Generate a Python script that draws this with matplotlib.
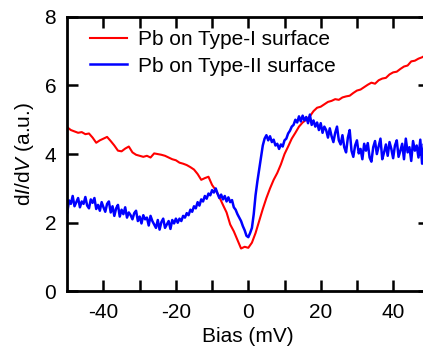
import numpy as np
import matplotlib
matplotlib.use('Agg')
import matplotlib.pyplot as plt

plt.rcParams['font.family'] = ['Liberation Sans', 'DejaVu Sans']
plt.rcParams['mathtext.fontset'] = 'custom'
plt.rcParams['mathtext.rm'] = 'Liberation Sans'
plt.rcParams['mathtext.it'] = 'Liberation Sans:italic'
plt.rcParams['axes.unicode_minus'] = False

# Pb on Type-I surface, every 1 mV from -50 to 50
red_vals = [4.78, 4.70, 4.66, 4.62, 4.64, 4.58, 4.60, 4.48, 4.33, 4.40,
            4.45, 4.50, 4.38, 4.25, 4.10, 4.08, 4.16, 4.22, 4.05, 3.98,
            3.95, 3.92, 3.95, 3.90, 4.02, 4.00, 3.98, 3.95, 3.90, 3.85,
            3.82, 3.75, 3.72, 3.68, 3.62, 3.55, 3.42, 3.25, 3.30, 3.34,
            3.10, 2.95, 2.75, 2.52, 2.30, 1.95, 1.75, 1.50, 1.25, 1.30,
            1.27, 1.42, 1.70, 2.05, 2.40, 2.72, 3.00, 3.25, 3.45, 3.70,
            4.00, 4.22, 4.45, 4.62, 4.80, 4.92, 5.00, 5.10, 5.25, 5.35,
            5.38, 5.45, 5.52, 5.55, 5.60, 5.58, 5.65, 5.68, 5.70, 5.78,
            5.85, 5.88, 5.95, 6.02, 6.08, 6.05, 6.15, 6.20, 6.22, 6.32,
            6.38, 6.40, 6.48, 6.55, 6.58, 6.70, 6.72, 6.78, 6.82, 6.88,
            6.92]

# Pb on Type-II surface, every 0.5 mV from -50 to 50
blue_vals = [2.30, 2.65, 2.55, 2.78, 2.48, 2.60, 2.72, 2.45, 2.62, 2.55,
             2.75, 2.50, 2.42, 2.68, 2.58, 2.72, 2.40, 2.52, 2.35, 2.60,
             2.45, 2.32, 2.55, 2.62, 2.30, 2.48, 2.20, 2.42, 2.52, 2.18,
             2.38, 2.25, 2.45, 2.15, 2.30, 2.22, 2.10, 2.28, 2.35, 2.05,
             2.18, 1.98, 2.22, 2.10, 2.15, 1.92, 2.20, 2.05, 1.95, 1.85,
             2.08, 1.80, 2.02, 2.12, 1.85, 1.95, 2.05, 1.82, 2.08, 1.98,
             2.12, 2.00, 2.12, 2.05, 2.20, 2.15, 2.28, 2.22, 2.38, 2.32,
             2.48, 2.42, 2.60, 2.50, 2.68, 2.62, 2.78, 2.70, 2.85, 2.80,
             2.95, 2.88, 3.00, 2.85, 2.72, 2.82, 2.68, 2.78, 2.62, 2.74,
             2.60, 2.66, 2.45, 2.38, 2.25, 2.15, 2.05, 1.90, 1.78, 1.62,
             1.58, 1.70, 1.85, 2.25, 2.80, 3.20, 3.55, 3.90, 4.25, 4.45,
             4.55, 4.40, 4.52, 4.35, 4.42, 4.25, 4.30, 4.15, 4.28, 4.22,
             4.40, 4.45, 4.60, 4.68, 4.80, 4.85, 5.00, 4.92, 5.10, 4.95,
             5.12, 4.98, 5.08, 4.90, 5.15, 4.85, 4.98, 4.80, 4.92, 4.70,
             4.90, 4.62, 4.80, 4.70, 4.48, 4.75, 4.52, 4.35, 4.62, 4.80,
             4.40, 4.28, 4.55, 4.20, 4.05, 4.48, 4.70, 4.10, 3.92, 4.25,
             4.40, 4.02, 4.15, 3.85, 4.30, 4.10, 4.32, 3.90, 3.78, 4.20,
             4.38, 4.00, 4.22, 4.45, 3.85, 4.05, 4.28, 3.95, 4.35, 4.15,
             3.88, 4.25, 4.40, 3.92, 4.10, 4.30, 3.85, 4.45, 4.05, 4.20,
             3.80, 4.38, 4.10, 4.25, 3.90, 4.42, 3.72, 4.30, 4.00, 4.35,
             4.15]

bias_red = np.linspace(-50, 50, len(red_vals))
bias_blue = np.linspace(-50, 50, len(blue_vals))

labels = ['Pb on Type-I surface', 'Pb on Type-II surface']

fig = plt.figure(figsize=(4.23, 3.49), dpi=100)
ax = fig.add_axes([0.159, 0.165, 0.856, 0.787])

ax.plot(bias_red, red_vals, color='#ff0000', lw=1.5, label=labels[0])
ax.plot(bias_blue, blue_vals, color='#0000ff', lw=1.8, label=labels[1])

ax.set_xlim(-50, 50)
ax.set_ylim(0, 8)
ax.set_xticks([-40, -20, 0, 20, 40])
ax.set_xticks([-30, -10, 10, 30], minor=True)
ax.set_yticks([0, 2, 4, 6, 8])

for side in ax.spines:
    ax.spines[side].set_linewidth(2)
ax.tick_params(which='both', direction='in', top=True, right=True,
               length=8, width=1.8, labelsize=15, pad=8)

ax.set_xlabel('Bias (mV)', fontsize=15, labelpad=4)
ax.set_ylabel(r'd$\mathit{I}$/d$\mathit{V}$ (a.u.)', fontsize=15, labelpad=6)

ax.legend(loc='upper left', bbox_to_anchor=(0.062, 0.95), frameon=False,
          fontsize=15, borderpad=0, borderaxespad=0, handlelength=1.8,
          handletextpad=0.5, labelspacing=0.35)

fig.savefig('out.png', dpi=100)
